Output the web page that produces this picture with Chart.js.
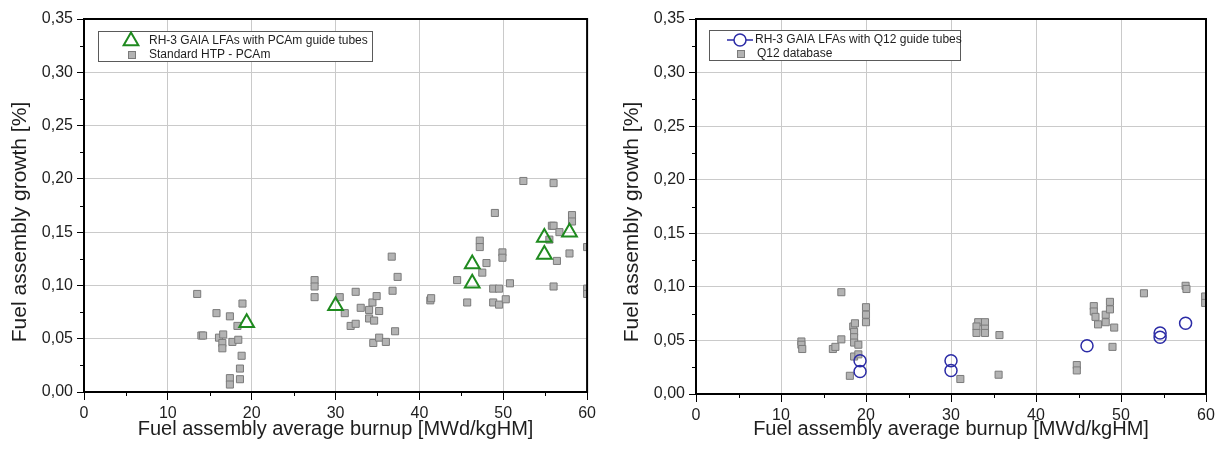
<!DOCTYPE html>
<html><head><meta charset="utf-8">
<script src="https://cdn.jsdelivr.net/npm/chart.js@4.4.1/dist/chart.umd.min.js"></script>
<style>
html,body{margin:0;padding:0;background:#fff;}
#wrapL{position:absolute;left:0;top:0;width:600px;height:456px;}
#wrapR{position:absolute;left:600px;top:0;width:621px;height:456px;}
</style></head><body>
<div id="wrapL"><canvas id="cL"></canvas></div>
<div id="wrapR"><canvas id="cR"></canvas></div>
<script>
// ---- tick labels ----
const xTickLabels = ['0','10','20','30','40','50','60'];
const yTickLabels = ['0,00','0,05','0,10','0,15','0,20','0,25','0,30','0,35'];
const xTitle = 'Fuel assembly average burnup [MWd/kgHM]';
const yTitle = 'Fuel assembly growth [%]';

// ---- left chart: PCAm ----
const lfaPcamLabel = 'RH-3 GAIA LFAs with PCAm guide tubes';
const lfaPcamX = [19.4, 30.0, 46.3, 46.3, 54.9, 54.9, 57.9];
const lfaPcamY = [0.065, 0.081, 0.120, 0.102, 0.145, 0.129, 0.150];

const pcamLabel = 'Standard HTP - PCAm';
const pcamX = [13.5,14.0,14.2,15.8,16.1,16.6,16.5,16.5,17.4,17.7,18.4,18.3,18.9,18.8,18.6,18.6,17.4,17.4,
  27.5,27.5,27.5,30.5,31.1,31.8,32.4,32.4,33.0,34.0,34.4,34.9,34.0,34.6,35.2,34.5,35.2,36.0,36.7,36.8,37.4,37.1,
  41.3,41.4,44.5,45.7,47.2,47.2,48.0,47.5,49.0,48.8,49.5,48.8,49.5,50.3,49.9,49.9,50.8,
  52.4,56.0,58.2,58.2,55.8,56.0,56.7,55.5,57.9,56.4,56.0,60.0,60.0,60.0];
const pcamY = [0.092,0.053,0.053,0.074,0.051,0.054,0.046,0.041,0.071,0.047,0.049,0.062,0.083,0.034,0.022,0.012,0.013,0.007,
  0.105,0.099,0.089,0.089,0.074,0.062,0.064,0.094,0.079,0.077,0.084,0.090,0.069,0.067,0.076,0.046,0.051,0.047,0.127,0.095,0.108,0.057,
  0.086,0.088,0.105,0.084,0.142,0.136,0.121,0.112,0.168,0.097,0.097,0.084,0.082,0.087,0.131,0.126,0.102,
  0.198,0.196,0.166,0.160,0.156,0.156,0.150,0.143,0.130,0.123,0.099,0.136,0.097,0.092];

// ---- right chart: Q12 ----
const lfaQ12Label = 'RH-3 GAIA LFAs with Q12 guide tubes';
const lfaQ12X = [19.3, 19.3, 30.0, 30.0, 46.0, 54.6, 54.6, 57.6];
const lfaQ12Y = [0.031, 0.021, 0.031, 0.022, 0.045, 0.057, 0.053, 0.066];

const q12Label = 'Q12 database';
const q12X = [12.4,12.4,12.5,16.1,16.4,17.1,17.1,18.1,18.5,18.7,18.6,18.6,18.6,19.1,18.6,19.1,20.0,20.0,20.0,
  31.1,33.2,33.0,33.0,34.0,34.0,34.0,35.7,35.6,44.8,44.8,
  46.8,46.8,47.0,47.3,48.2,48.2,48.7,48.7,49.2,49.0,52.7,57.6,57.7,59.9,59.9];
const q12Y = [0.049,0.046,0.042,0.042,0.044,0.051,0.095,0.017,0.063,0.066,0.058,0.053,0.048,0.046,0.035,0.037,0.081,0.074,0.067,
  0.014,0.067,0.063,0.057,0.067,0.061,0.057,0.055,0.018,0.027,0.022,
  0.082,0.077,0.072,0.065,0.074,0.067,0.086,0.079,0.062,0.044,0.094,0.101,0.098,0.091,0.085];

const pts = (xs, ys) => xs.map((x, i) => ({x, y: ys[i]}));

const FONT = "'Liberation Sans', Arial, sans-serif";
const TXT = '#1e1e1e';
const GREEN = '#1f8a1f';
const BLUE = '#2b2ba6';
const SQ_FILL = '#b3b3b3';
const SQ_EDGE = '#7b7b7b';

function drawMarker(c, type, x, y) {
  c.save();
  if (type === 'triangle') {
    const r = 8.5;
    c.strokeStyle = GREEN; c.lineWidth = 2;
    c.beginPath();
    c.moveTo(x, y - r);
    c.lineTo(x + r * Math.sin(2*Math.PI/3), y - r * Math.cos(2*Math.PI/3));
    c.lineTo(x + r * Math.sin(4*Math.PI/3), y - r * Math.cos(4*Math.PI/3));
    c.closePath(); c.stroke();
  } else if (type === 'circle') {
    c.strokeStyle = BLUE; c.lineWidth = 1.5;
    c.beginPath(); c.moveTo(x - 13, y); c.lineTo(x - 6, y); c.moveTo(x + 6, y); c.lineTo(x + 13, y); c.stroke();
    c.beginPath(); c.arc(x, y, 6, 0, Math.PI * 2); c.stroke();
  } else {
    c.fillStyle = SQ_FILL; c.strokeStyle = SQ_EDGE; c.lineWidth = 1;
    c.fillRect(x - 3.5, y - 3.5, 7, 7); c.strokeRect(x - 3.5, y - 3.5, 7, 7);
  }
  c.restore();
}

const decorPlugin = {
  id: 'decor',
  afterDraw(chart, args, o) {
    const c = chart.ctx, a = chart.chartArea;
    const xs = chart.scales.x, ys = chart.scales.y;
    c.save();
    // minor ticks
    c.strokeStyle = '#000'; c.lineWidth = 1;
    c.beginPath();
    for (let v = 0.025; v < 0.35; v += 0.05) {
      const py = Math.round(ys.getPixelForValue(v)) + 0.5;
      c.moveTo(a.left - 4, py); c.lineTo(a.left, py);
    }
    for (let v = 5; v < 60; v += 10) {
      const px = Math.round(xs.getPixelForValue(v)) + 0.5;
      c.moveTo(px, a.bottom); c.lineTo(px, a.bottom + 4);
    }
    c.stroke();
    // frame
    c.lineWidth = 2; c.strokeStyle = '#000';
    c.strokeRect(a.left, a.top, a.right - a.left, a.bottom - a.top);
    // y title
    c.fillStyle = TXT; c.font = '21px ' + FONT;
    c.translate(o.titleX, o.titleY); c.rotate(-Math.PI / 2);
    c.textAlign = 'center'; c.textBaseline = 'middle';
    c.fillText(yTitle, 0, 0);
    c.restore();
    // legend
    const L = o.legend;
    c.save();
    c.fillStyle = '#fff'; c.fillRect(L.x, L.y, L.w, L.h);
    c.strokeStyle = '#5a5a5a'; c.lineWidth = 1;
    c.strokeRect(L.x + 0.5, L.y + 0.5, L.w, L.h);
    c.font = '12px ' + FONT; c.fillStyle = TXT; c.textBaseline = 'middle'; c.textAlign = 'left';
    L.items.forEach(it => {
      drawMarker(c, it.type, it.mx, it.my);
      c.fillText(it.label, it.tx, it.my);
    });
    c.restore();
  }
};

function makeOptions(yWidth, xHeight, padRight, decor) {
  return {
    responsive: true,
    maintainAspectRatio: false,
    animation: false,
    layout: { padding: { left: 0, top: 19, right: padRight, bottom: 0 } },
    plugins: { legend: { display: false }, tooltip: { enabled: false }, decor },
    scales: {
      x: {
        type: 'linear', min: 0, max: 60,
        ticks: { stepSize: 10, font: { family: FONT, size: 16 }, color: TXT, padding: 4,
          callback: (v, i) => xTickLabels[i] },
        grid: { color: '#cacaca', lineWidth: 1, tickColor: '#000', tickLength: 8 },
        border: { color: '#000', width: 2 },
        title: { display: true, text: xTitle, font: { family: FONT, size: 20 }, color: TXT,
          padding: { top: 0, bottom: 15 } },
        afterFit: s => { s.height = xHeight; }
      },
      y: {
        type: 'linear', min: 0, max: 0.35,
        ticks: { stepSize: 0.05, font: { family: FONT, size: 16 }, color: TXT, padding: 4,
          callback: (v, i) => yTickLabels[i] },
        grid: { color: '#cacaca', lineWidth: 1, tickColor: '#000', tickLength: 7 },
        border: { color: '#000', width: 2 },
        afterFit: s => { s.width = yWidth; }
      }
    }
  };
}

new Chart(document.getElementById('cL'), {
  type: 'scatter',
  data: {
    datasets: [
      { label: lfaPcamLabel, data: pts(lfaPcamX, lfaPcamY), pointStyle: 'triangle', pointRadius: 8.5,
        borderColor: GREEN, backgroundColor: 'rgba(0,0,0,0)', borderWidth: 2, pointHoverRadius: 8.5 },
      { label: pcamLabel, data: pts(pcamX, pcamY), pointStyle: 'rect', pointRadius: 5,
        borderColor: SQ_EDGE, backgroundColor: SQ_FILL, borderWidth: 1, pointHoverRadius: 5 }
    ]
  },
  options: makeOptions(84, 64, 12, {
    titleX: 20, titleY: 222,
    legend: { x: 98, y: 31, w: 274, h: 30, items: [
      { type: 'triangle', mx: 131, my: 41, tx: 149, label: lfaPcamLabel },
      { type: 'rect', mx: 132, my: 55, tx: 149, label: pcamLabel }
    ] }
  }),
  plugins: [decorPlugin]
});

new Chart(document.getElementById('cR'), {
  type: 'scatter',
  data: {
    datasets: [
      { label: lfaQ12Label, data: pts(lfaQ12X, lfaQ12Y), pointStyle: 'circle', pointRadius: 6,
        borderColor: BLUE, backgroundColor: 'rgba(0,0,0,0)', borderWidth: 1.5, pointHoverRadius: 6 },
      { label: q12Label, data: pts(q12X, q12Y), pointStyle: 'rect', pointRadius: 5,
        borderColor: SQ_EDGE, backgroundColor: SQ_FILL, borderWidth: 1, pointHoverRadius: 5 }
    ]
  },
  options: makeOptions(96, 62, 15, {
    titleX: 32, titleY: 222,
    legend: { x: 109, y: 30, w: 251, h: 30, items: [
      { type: 'circle', mx: 140, my: 40, tx: 155, label: lfaQ12Label },
      { type: 'rect', mx: 141, my: 54, tx: 157, label: q12Label }
    ] }
  }),
  plugins: [decorPlugin]
});
</script>
</body></html>
